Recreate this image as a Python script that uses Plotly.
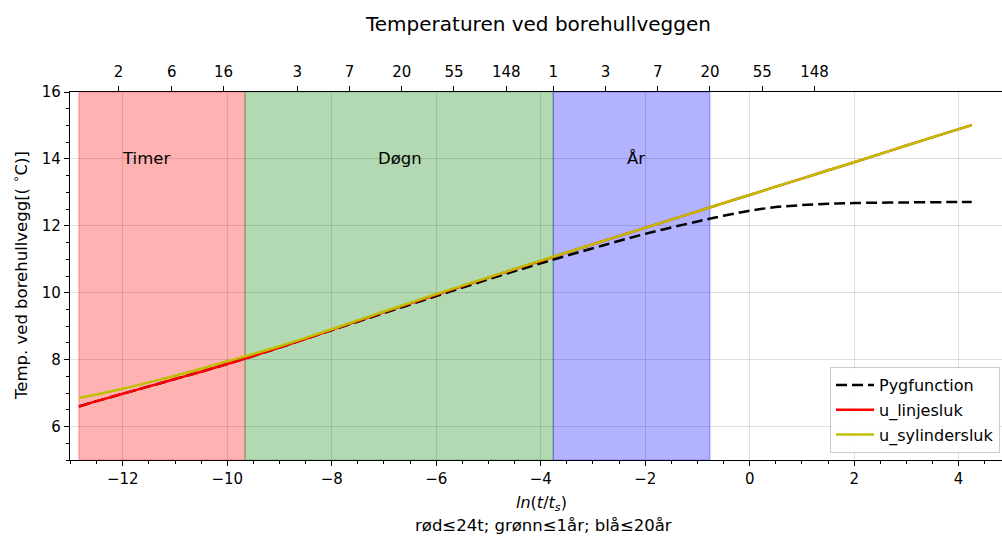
import plotly.graph_objects as go

# ln(t/ts) sample points
x_ln = [-12.84, -12.5, -12.0, -11.5, -11.0, -10.5, -10.0, -9.5, -9.0, -8.5,
        -8.0, -7.0, -6.0, -5.0, -4.0, -3.0, -2.0, -1.0, -0.5, 0.0, 0.5, 1.0,
        1.5, 2.0, 3.0, 4.0, 4.25]

# borehole wall temperature [°C]
pygfunction = [6.60, 6.76, 6.98, 7.20, 7.42, 7.64, 7.87, 8.11, 8.36, 8.62,
               8.88, 9.39, 9.90, 10.40, 10.88, 11.33, 11.76, 12.13, 12.30, 12.45, 12.56, 12.62,
               12.66, 12.68, 12.70, 12.71, 12.71]
u_linjesluk = [6.60, 6.76, 6.98, 7.20, 7.42, 7.64, 7.87, 8.11, 8.36, 8.62,
               8.89, 9.42, 9.94, 10.45, 10.95, 11.45, 11.94, 12.43, 12.68, 12.92, 13.17, 13.41,
               13.66, 13.90, 14.40, 14.89, 15.01]
u_sylindersluk = [6.86, 6.96, 7.13, 7.32, 7.52, 7.73, 7.95, 8.17, 8.40, 8.65,
                  8.91, 9.44, 9.96, 10.46, 10.96, 11.45, 11.94, 12.43, 12.68, 12.92, 13.17, 13.41,
                  13.66, 13.90, 14.40, 14.89, 15.01]

# time periods (ln(t/ts) limits): 1 h, 24 h, 1 year, 20 years
period_edges = [-12.84, -9.66, -3.76, -0.76]
period_colors = ["rgba(255,0,0,0.3)", "rgba(0,128,0,0.3)", "rgba(0,0,255,0.3)"]
period_names = ["Timer", "Døgn", "År"]
period_label_x = [-11.56, -6.70, -2.18]
period_label_y = 14.0

# secondary axis: hours, days, years
top_tick_pos = [-12.08, -11.06, -10.07, -8.66, -7.66, -6.66, -5.66, -4.66,
                -3.76, -2.76, -1.76, -0.76, 0.24, 1.24]
top_tick_text = ["2", "6", "16", "3", "7", "20", "55", "148",
                 "1", "3", "7", "20", "55", "148"]

X_RANGE = [-13.01, 4.83]
Y_RANGE = [5, 16]
FONT = "DejaVu Sans"

fig = go.Figure()
fig.add_trace(go.Scatter(x=x_ln, y=pygfunction, mode="lines", name="Pygfunction", legendgroup="a",
                         line=dict(color="black", width=2.5, dash="11px,5px", shape="spline")))
fig.add_trace(go.Scatter(x=x_ln, y=u_linjesluk, mode="lines", name="u_linjesluk", legendgroup="b",
                         line=dict(color="#ff0000", width=2.5, shape="spline")))
fig.add_trace(go.Scatter(x=x_ln, y=u_sylindersluk, mode="lines", name="u_sylindersluk", legendgroup="c",
                         line=dict(color="#bfbf00", width=2.5, shape="spline")))
# invisible trace carrying the top axis
fig.add_trace(go.Scatter(x=[X_RANGE[0]], y=[Y_RANGE[0]], xaxis="x2", mode="markers",
                         marker=dict(opacity=0), showlegend=False, hoverinfo="skip"))

for i, col in enumerate(period_colors):
    fig.add_shape(type="rect", xref="x", yref="y",
                  x0=period_edges[i], x1=period_edges[i + 1], y0=Y_RANGE[0], y1=Y_RANGE[1],
                  fillcolor=col, line=dict(color=col, width=1.2), layer="below")
    fig.add_annotation(x=period_label_x[i], y=period_label_y, text=period_names[i],
                       showarrow=False, font=dict(family=FONT, size=16.5, color="black"),
                       xanchor="center", yanchor="middle")

W, H = 1002, 536
ML, MR, MT, MB = 70, 0, 92, 76
pw, ph = W - ML - MR, H - MT - MB

def px_x(p):
    return (p - ML) / pw

def px_y(p):
    return (H - MB - p) / ph

annots = [
    dict(text="Temperaturen ved borehullveggen", x=px_x(538), y=px_y(24), size=20),
    dict(text="<i>ln</i>(<i>t</i>/<i>t<sub>s</sub></i>)", x=px_x(541), y=px_y(503), size=16),
    dict(text="rød≤24t; grønn≤1år; blå≤20år", x=px_x(543), y=px_y(525), size=16.5),
]
for a in annots:
    fig.add_annotation(xref="paper", yref="paper", x=a["x"], y=a["y"], text=a["text"],
                       showarrow=False, xanchor="center", yanchor="middle",
                       font=dict(family=FONT, size=a["size"], color="black"))
fig.add_annotation(xref="paper", yref="paper", x=px_x(20), y=0.5,
                   text="Temp. ved borehullvegg[( <sup>∘</sup>C)]", textangle=-90,
                   showarrow=False, xanchor="center", yanchor="middle",
                   font=dict(family=FONT, size=16.5, color="black"))

grid = "rgba(0,0,0,0.12)"
fig.update_layout(
    width=W, height=H,
    margin=dict(l=ML, r=MR, t=MT, b=MB),
    paper_bgcolor="white", plot_bgcolor="white",
    font=dict(family=FONT, size=15, color="black"),
    xaxis=dict(range=X_RANGE, dtick=2, tick0=0, showgrid=True, gridcolor=grid, gridwidth=1,
               zeroline=False, showline=True, linecolor="black", linewidth=1.3,
               ticks="outside", ticklen=5, tickwidth=1.2, tickcolor="black",
               minor=dict(dtick=0.5, tick0=0, ticks="outside", ticklen=3, tickcolor="black",
                          showgrid=False)),
    xaxis2=dict(range=X_RANGE, overlaying="x", side="top", tickmode="array",
                tickvals=top_tick_pos, ticktext=top_tick_text, showgrid=False,
                zeroline=False, showline=True, linecolor="black", linewidth=1.3,
                ticks="outside", ticklen=5, tickwidth=1.2, tickcolor="black",
                ticklabelstandoff=3),
    yaxis=dict(range=Y_RANGE, tickvals=[6, 8, 10, 12, 14, 16], showgrid=True, gridcolor=grid,
               zeroline=False, showline=True, linecolor="black", linewidth=1.3,
               ticks="outside", ticklen=5, tickwidth=1.2, tickcolor="black",
               minor=dict(dtick=0.5, tick0=0, ticks="outside", ticklen=3, tickcolor="black",
                          showgrid=False)),
    legend=dict(x=px_x(1000), y=px_y(453), xanchor="right", yanchor="bottom",
                bgcolor="rgba(255,255,255,0.85)", bordercolor="rgba(0,0,0,0.2)", borderwidth=1,
                font=dict(family=FONT, size=16, color="black"), tracegroupgap=1,
                traceorder="grouped", itemwidth=38),
    showlegend=True,
)

fig.write_html("out.html")
